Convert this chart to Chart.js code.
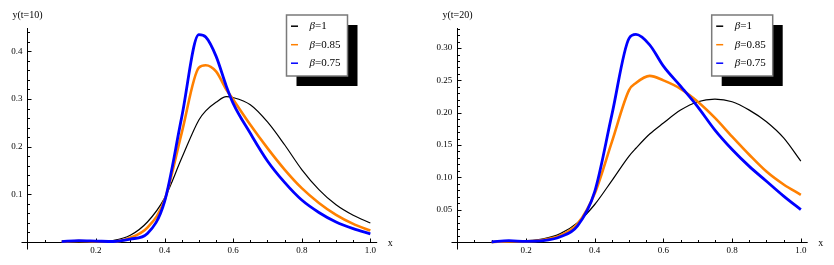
<!DOCTYPE html>
<html>
<head>
<meta charset="utf-8">
<script src="https://cdn.jsdelivr.net/npm/chart.js@4/dist/chart.umd.min.js"></script>
<style>
html, body { margin: 0; padding: 0; background: #fff; }
#wrap { position: relative; width: 834px; height: 265px; }
#c10 { position: absolute; left: 0; top: 0; }
#c20 { position: absolute; left: 414px; top: 0; }
</style>
</head>
<body>
<div id="wrap">
  <canvas id="c10" width="414" height="265"></canvas>
  <canvas id="c20" width="420" height="265"></canvas>
</div>
<script>
// series names and colours
const seriesLabels = ['β=1', 'β=0.85', 'β=0.75'];
const seriesColors = ['#000000', '#ff8000', '#0000ff'];
const seriesWidths = [1.2, 2.6, 2.8];

// t = 10 panel
const xs10 = [0.1, 0.15, 0.2, 0.25, 0.3, 0.35, 0.4, 0.45, 0.5, 0.52, 0.55, 0.58, 0.6, 0.65, 0.7, 0.75, 0.8, 0.85, 0.9, 0.95, 1.0];
const beta1_t10   = [0, 0, 0, 0.003, 0.014, 0.042, 0.092, 0.176, 0.256, 0.275, 0.293, 0.305, 0.303, 0.288, 0.252, 0.204, 0.152, 0.110, 0.078, 0.056, 0.040];
const beta085_t10 = [0.001, 0.002, 0.001, 0.001, 0.009, 0.03, 0.088, 0.229, 0.366, 0.371, 0.358, 0.32, 0.299, 0.246, 0.197, 0.152, 0.113, 0.082, 0.057, 0.038, 0.024];
const beta075_t10 = [0.001, 0.003, 0.002, 0.001, 0.006, 0.018, 0.085, 0.262, 0.435, 0.43, 0.39, 0.327, 0.291, 0.228, 0.17, 0.125, 0.088, 0.062, 0.042, 0.028, 0.017];

// t = 20 panel
const xs20 = [0.1, 0.15, 0.2, 0.25, 0.3, 0.35, 0.4, 0.45, 0.5, 0.52, 0.56, 0.6, 0.65, 0.7, 0.75, 0.8, 0.85, 0.9, 0.95, 1.0];
const beta1_t20   = [0, 0.001, 0.002, 0.005, 0.013, 0.03, 0.058, 0.095, 0.133, 0.145, 0.167, 0.184, 0.204, 0.217, 0.221, 0.217, 0.204, 0.186, 0.161, 0.125];
const beta085_t20 = [0, 0.001, 0.001, 0.003, 0.01, 0.028, 0.075, 0.155, 0.235, 0.246, 0.257, 0.25, 0.237, 0.217, 0.192, 0.163, 0.135, 0.109, 0.089, 0.073];
const beta075_t20 = [0, 0.002, 0.001, 0.002, 0.008, 0.025, 0.078, 0.197, 0.315, 0.321, 0.305, 0.272, 0.241, 0.209, 0.173, 0.143, 0.117, 0.094, 0.071, 0.05];

// tick labels
const xTicks = [0.2, 0.4, 0.6, 0.8, 1.0];
const yTicks10 = [0.1, 0.2, 0.3, 0.4];
const yTicks20 = [0.05, 0.10, 0.15, 0.20, 0.25, 0.30];

const SERIF = '"Liberation Serif", "DejaVu Serif", serif';

// Mathematica-like axes through the origin, inward ticks, shadowed legend
const mmaAxes = {
  id: 'mmaAxes',
  beforeDatasetsDraw(chart, args, o) {
    const { ctx, chartArea: a, scales: { x, y } } = chart;
    const x0 = Math.round(x.getPixelForValue(0)) + 0.5;
    const y0 = Math.round(y.getPixelForValue(0)) + 0.5;
    ctx.save();
    ctx.strokeStyle = '#000';
    ctx.lineWidth = 1;
    ctx.beginPath();
    ctx.moveTo(x0 - 6, y0); ctx.lineTo(a.right, y0);
    ctx.moveTo(x0, y0 + 7); ctx.lineTo(x0, a.top);
    for (let i = 1; i * o.xMinor <= x.max + 1e-9; i++) {
      const v = i * o.xMinor;
      const r = v / o.xMajor;
      const len = Math.abs(r - Math.round(r)) < 1e-6 ? 4 : 2.5;
      const p = Math.round(x.getPixelForValue(v)) + 0.5;
      ctx.moveTo(p, y0); ctx.lineTo(p, y0 - len);
    }
    for (let i = 1; i * o.yMinor <= y.max + 1e-9; i++) {
      const v = i * o.yMinor;
      const r = v / o.yMajor;
      const len = Math.abs(r - Math.round(r)) < 1e-6 ? 4 : 2.5;
      const p = Math.round(y.getPixelForValue(v)) + 0.5;
      ctx.moveTo(x0, p); ctx.lineTo(x0 + len, p);
    }
    ctx.stroke();

    ctx.fillStyle = '#000';
    ctx.font = '10px ' + SERIF;
    ctx.textBaseline = 'middle';
    ctx.textAlign = 'center';
    ctx.fillText(o.yTitle, x0, 15);
    ctx.textAlign = 'left';
    ctx.fillText('x', a.right + 10.5, y0 + 1);
    ctx.restore();
  },
  afterDraw(chart, args, o) {
    const ctx = chart.ctx;
    const bx = o.legendX, by = 15, bw = 61, bh = 61;
    ctx.save();
    ctx.fillStyle = '#000';
    ctx.fillRect(bx + 10, by + 10, bw, bh);
    ctx.fillStyle = '#fff';
    ctx.fillRect(bx, by, bw, bh);
    ctx.strokeStyle = '#7a7a7a';
    ctx.lineWidth = 1.5;
    ctx.strokeRect(bx, by, bw, bh);
    // datasets are stored blue-first so blue is drawn on top; list them black-first
    chart.data.datasets.slice().reverse().forEach((ds, i) => {
      const ry = by + 11.2 + i * 18.5;
      ctx.strokeStyle = ds.borderColor;
      ctx.lineWidth = 1.5;
      ctx.beginPath();
      ctx.moveTo(bx + 4.5, ry); ctx.lineTo(bx + 11.5, ry);
      ctx.stroke();
      ctx.fillStyle = '#000';
      ctx.textBaseline = 'middle';
      ctx.textAlign = 'left';
      ctx.font = 'italic 11px ' + SERIF;
      ctx.fillText(ds.label[0], bx + 23, ry);
      const w = ctx.measureText(ds.label[0]).width;
      ctx.font = '11px ' + SERIF;
      ctx.fillText(ds.label.slice(1), bx + 23 + w, ry);
    });
    ctx.restore();
  }
};

function makeChart(id, xs, series, yTicks, yMax, yDigits, yWidth, padRight, axOpts) {
  const datasets = series.map((ys, i) => ({
    label: seriesLabels[i],
    data: xs.map((xv, j) => ({ x: xv, y: ys[j] })),
    borderColor: seriesColors[i],
    borderWidth: seriesWidths[i],
    pointRadius: 0,
    fill: false,
    cubicInterpolationMode: 'monotone',
    clip: 5
  })).reverse();

  return new Chart(document.getElementById(id), {
    type: 'line',
    data: { datasets: datasets },
    options: {
      responsive: false,
      animation: false,
      layout: { padding: { top: 28, right: padRight, left: 0, bottom: 0 } },
      plugins: {
        legend: { display: false },
        tooltip: { enabled: false },
        mmaAxes: axOpts
      },
      scales: {
        x: {
          type: 'linear',
          min: 0,
          max: 1.02,
          grid: { display: false, drawTicks: false },
          border: { display: false },
          afterBuildTicks: s => { s.ticks = xTicks.map(v => ({ value: v })); },
          afterFit: s => { s.height = 23; },
          ticks: {
            padding: 3,
            color: '#000',
            font: { family: SERIF, size: 9 },
            maxRotation: 0,
            callback: v => Number(v).toFixed(1)
          }
        },
        y: {
          type: 'linear',
          min: 0,
          max: yMax,
          grid: { display: false, drawTicks: false },
          border: { display: false },
          afterBuildTicks: s => { s.ticks = yTicks.map(v => ({ value: v })); },
          afterFit: s => { s.width = yWidth; },
          ticks: {
            padding: 5,
            color: '#000',
            font: { family: SERIF, size: 9 },
            callback: v => Number(v).toFixed(yDigits)
          }
        }
      }
    },
    plugins: [mmaAxes]
  });
}

makeChart('c10', xs10, [beta1_t10, beta085_t10, beta075_t10], yTicks10, 0.449, 1, 27.4, 36.8,
  { yTitle: 'y(t=10)', xMinor: 0.05, xMajor: 0.2, yMinor: 0.02, yMajor: 0.1, legendX: 286.5 });
makeChart('c20', xs20, [beta1_t20, beta085_t20, beta075_t20], yTicks20, 0.331, 2, 43.3, 26.3,
  { yTitle: 'y(t=20)', xMinor: 0.05, xMajor: 0.2, yMinor: 0.01, yMajor: 0.05, legendX: 297.7 });
</script>
</body>
</html>
